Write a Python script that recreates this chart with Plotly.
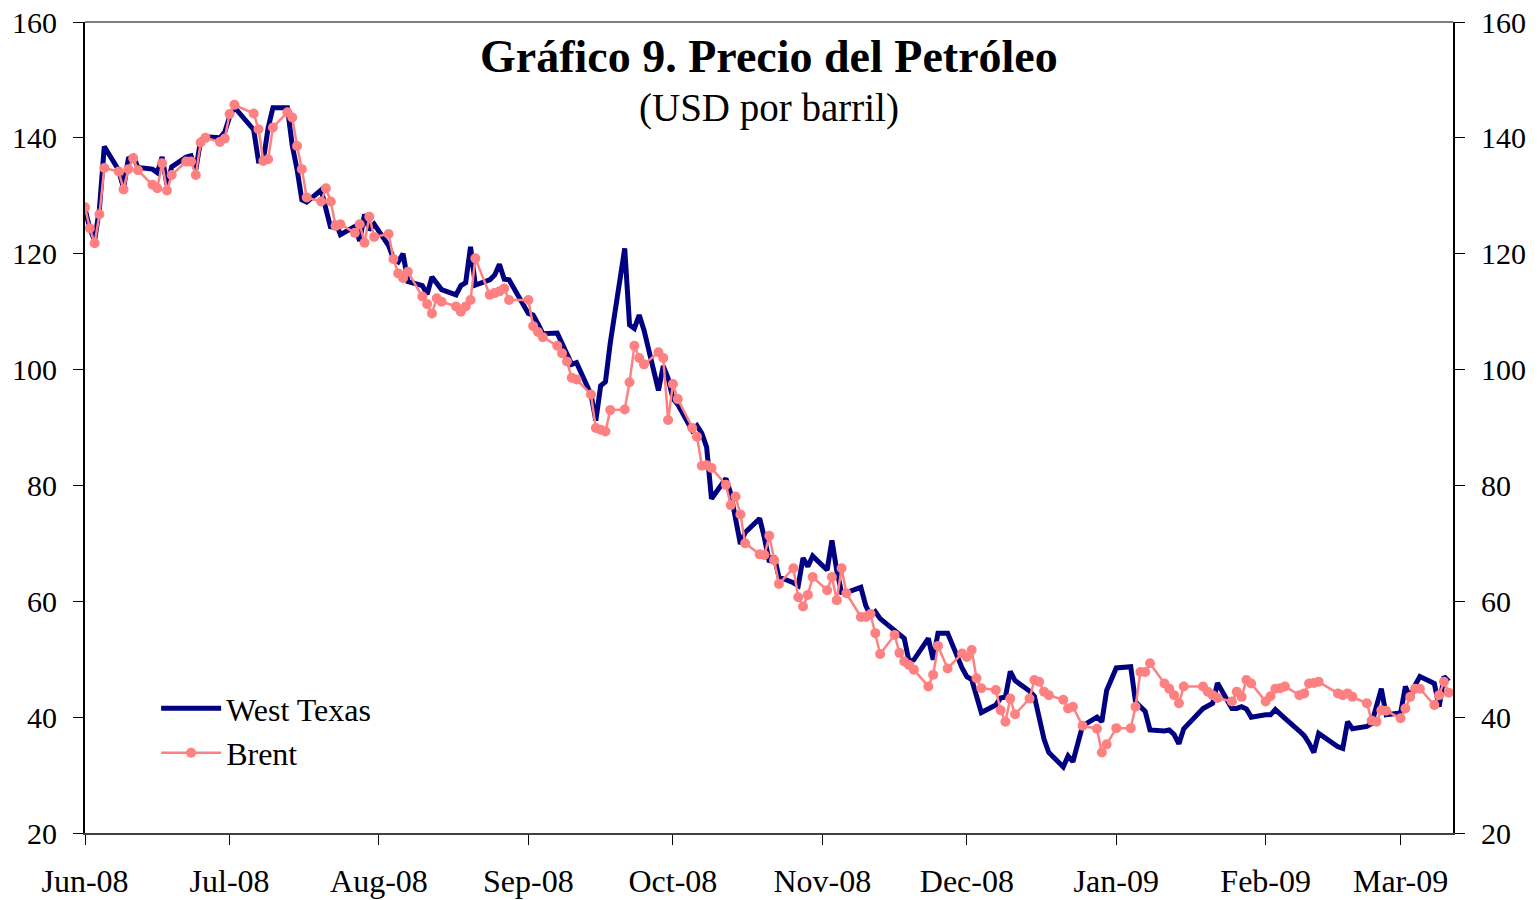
import pandas as pd
import plotly.graph_objects as go

# trading days, 2 Jun 2008 - 12 Mar 2009 (US calendar)
holidays = ["2008-07-04", "2008-09-01", "2008-11-27", "2008-12-25",
            "2009-01-01", "2009-01-19", "2009-02-16"]
dates = pd.bdate_range("2008-06-02", "2009-03-12")
dates = dates[~dates.isin(pd.to_datetime(holidays))]

# USD per barrel, one line per month
wti = [
    127.8, 124.3, 122.3, 127.8, 138.5, 134.4, 131.3, 136.4, 136.8, 134.9, 134.6, 134.0, 136.7, 131.9, 135.0, 136.7, 136.9, 134.5, 139.6, 140.2, 140.0,
    141.0, 143.6, 145.3, 141.4, 136.0, 136.1, 141.7, 145.2, 145.2, 138.7, 134.6, 129.3, 128.9, 131.0, 128.0, 124.4, 125.5, 123.3, 124.7, 122.2, 126.8, 124.1,
    125.1, 121.4, 119.2, 118.6, 120.0, 115.2, 114.5, 113.0, 116.0, 115.0, 113.8, 112.9, 114.5, 115.0, 121.2, 114.6, 115.5, 116.3, 118.2, 115.6, 115.5,
    109.7, 109.4, 107.9, 106.2, 106.3, 104.5, 102.6, 100.9, 101.2, 95.7, 91.2, 97.2, 97.9, 104.6, 120.9, 107.7, 107.1, 109.4, 106.8, 96.4, 100.6,
    98.5, 95.0, 94.0, 89.5, 90.3, 89.0, 86.6, 77.7, 81.2, 78.6, 74.5, 69.9, 71.9, 74.3, 70.9, 66.8, 67.8, 64.2, 63.2, 62.7, 67.5, 66.0, 67.8,
    65.4, 70.5, 65.3, 61.5, 61.5, 62.4, 59.3, 57.5, 58.2, 57.0, 55.0, 54.4, 53.6, 49.6, 49.9, 53.6, 49.9, 54.5, 54.5,
    48.5, 47.0, 46.5, 43.7, 40.8, 42.1, 43.3, 43.5, 47.9, 46.3, 44.5, 43.6, 40.1, 36.2, 33.9, 31.4, 33.3, 32.3, 38.5, 40.0, 39.2, 44.6,
    48.5, 48.7, 42.6, 41.7, 41.0, 37.8, 37.6, 37.8, 37.0, 35.4, 38.0, 41.5, 42.0, 42.4, 45.9, 41.5, 41.5, 41.8, 41.4, 40.0,
    40.4, 40.4, 41.3, 40.5, 39.8, 37.6, 36.8, 35.5, 33.9, 37.2, 34.9, 34.6, 39.2, 38.0, 38.4, 38.9, 42.0, 44.9, 40.4,
    40.7, 45.3, 43.3, 45.5, 47.0, 45.8, 41.8, 47.0, 46.2,
]

brent = [
    128.0, 124.4, 121.8, 126.8, 134.8, 134.2, 131.1, 134.6, 136.5, 134.4, 131.9, 131.3, 135.6, 130.9, 133.6, 135.9, 135.9, 133.6, 139.2, 140.0, 139.3,
    139.9, 144.1, 145.7, 144.2, 141.5, 136.0, 136.3, 141.8, 144.4, 143.5, 138.6, 134.6, 129.7, 129.0, 131.3, 129.0, 124.8, 125.1, 123.6, 125.1, 121.9, 126.4,
    122.9, 123.4, 119.1, 116.6, 115.8, 116.9, 112.6, 111.3, 109.7, 112.3, 111.7, 110.9, 110.0, 110.9, 112.0, 119.2, 112.9, 113.2, 113.5, 114.0, 112.0,
    112.0, 107.5, 106.5, 105.6, 104.1, 102.8, 101.4, 98.6, 98.3, 95.7, 89.9, 89.6, 89.3, 93.0, 93.1, 97.8, 104.1, 102.0, 100.9, 103.0, 102.0,
    91.3, 97.5, 94.9, 89.9, 88.4, 83.4, 83.5, 83.0, 80.1, 76.6, 78.1, 75.0, 70.0, 68.1, 68.0, 71.3, 67.1, 63.0, 65.7, 60.7, 59.1, 61.1, 64.2,
    61.9, 64.2, 60.2, 65.7, 61.4, 57.3, 57.3, 57.8, 54.5, 50.9, 54.2, 51.1, 49.6, 49.0, 48.2, 45.3, 47.3, 52.3, 48.4,
    51.0, 50.4, 51.6, 46.7, 45.0, 44.7, 41.2, 39.2, 43.2, 40.5, 43.2, 46.4, 46.1, 44.4, 43.8, 43.0, 41.5, 41.8, 38.5, 38.0, 33.9, 35.3,
    38.1, 38.1, 41.8, 47.8, 47.8, 49.3, 45.8, 44.9, 43.8, 42.4, 45.3, 45.3, 44.4, 43.8, 43.3, 42.7, 44.4, 43.5, 46.4, 45.8,
    42.7, 43.6, 44.9, 45.0, 45.3, 43.8, 44.1, 45.8, 45.9, 46.1, 44.1, 43.8, 44.1, 43.5, 42.4, 39.4, 39.2, 41.2, 41.1,
    39.8, 41.5, 43.5, 44.9, 44.9, 42.1, 43.8, 46.1, 44.2,
]

assert len(dates) == len(wti) == len(brent), (len(dates), len(wti), len(brent))

tick_dates = ["2008-06-02", "2008-07-02", "2008-08-02", "2008-09-02", "2008-10-02",
              "2008-11-02", "2008-12-02", "2009-01-02", "2009-02-02", "2009-03-02"]
tick_labels = ["Jun-08", "Jul-08", "Aug-08", "Sep-08", "Oct-08",
               "Nov-08", "Dec-08", "Jan-09", "Feb-09", "Mar-09"]

FONT = "Liberation Serif, Times New Roman, serif"

fig = go.Figure()
fig.add_trace(go.Scatter(
    x=dates, y=wti, name="West Texas", mode="lines",
    line=dict(color="#000080", width=5),
))
fig.add_trace(go.Scatter(
    x=dates, y=brent, name="Brent", mode="lines+markers",
    line=dict(color="#FF8080", width=2.5),
    marker=dict(color="#FF8080", size=10),
))
# invisible copy so the right axis gets its own labels
fig.add_trace(go.Scatter(
    x=dates[:1], y=brent[:1], yaxis="y2", mode="lines",
    line=dict(width=0), showlegend=False, hoverinfo="skip",
))

axis_y = dict(
    range=[20, 160], dtick=20, showgrid=False, zeroline=False,
    ticks="outside", ticklen=10, tickwidth=1, tickcolor="black",
    showline=True, linecolor="black", linewidth=2,
    tickfont=dict(family=FONT, size=30, color="black"),
    ticklabelstandoff=10, automargin=False, ticklabeloverflow="allow",
)

fig.update_layout(
    width=1540, height=900,
    margin=dict(l=85, r=87, t=22, b=67),
    paper_bgcolor="white", plot_bgcolor="white",
    font=dict(family=FONT, color="black"),
    xaxis=dict(
        type="date",
        range=["2008-06-02", "2009-03-12 21:00"],
        tickvals=tick_dates, ticktext=tick_labels,
        showgrid=False, zeroline=False,
        ticks="outside", ticklen=10, tickwidth=1, tickcolor="black",
        showline=True, linecolor="#404040", linewidth=2,
        tickfont=dict(family=FONT, size=32, color="black"),
        ticklabelstandoff=9, automargin=False, ticklabeloverflow="allow",
    ),
    yaxis=axis_y,
    yaxis2=dict(axis_y, overlaying="y", side="right"),
    showlegend=True,
    legend=dict(
        x=0.052, y=0.1875, xanchor="left", yanchor="top",
        bgcolor="rgba(0,0,0,0)",
        font=dict(family=FONT, size=32, color="black"),
        itemwidth=60, tracegroupgap=0,
    ),
    shapes=[dict(type="line", xref="paper", yref="paper", x0=0, x1=1, y0=1, y1=1,
                 line=dict(color="#808080", width=2))],
    annotations=[
        dict(text="<b>Gráfico 9. Precio del Petróleo</b>", xref="paper", yref="paper",
             x=0.5, y=0.957, xanchor="center", yanchor="middle", showarrow=False,
             font=dict(family=FONT, size=46, color="black")),
        dict(text="(USD por barril)", xref="paper", yref="paper",
             x=0.5, y=0.894, xanchor="center", yanchor="middle", showarrow=False,
             font=dict(family=FONT, size=39, color="black")),
    ],
)

# drop the browser's default body margin so the figure fills the window
fig.write_html("out.html", config={"displayModeBar": False},
               post_script="document.body.style.margin = '0';")
